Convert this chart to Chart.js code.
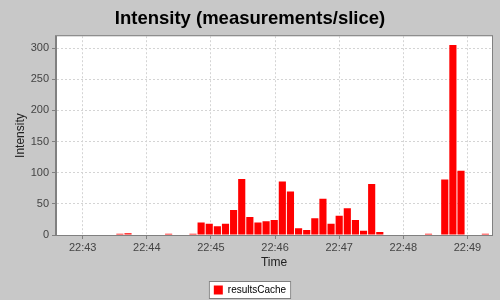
<!DOCTYPE html>
<html>
<head>
<meta charset="utf-8">
<script src="https://cdn.jsdelivr.net/npm/chart.js@4.4.0/dist/chart.umd.min.js"></script>
<style>
  html, body { margin: 0; padding: 0; background: #c8c8c8; }
  #wrap { width: 500px; height: 300px; }
</style>
</head>
<body>
<div id="wrap"><canvas id="intensityChart" width="500" height="300"></canvas></div>
<script>
// time slices (start of first slice, slice length in seconds)
const firstSlice = "22:43:31";
const sliceSeconds = 7.6;
// measurements per slice
const counts = [2, 3, 0, 0, 0, 0, 2, 0, 0, 2,
  20, 18, 14, 18, 40, 90, 29, 20, 22, 24,
  86, 70, 11, 8, 27, 58, 18, 31, 43, 24,
  7, 82, 5, 0, 0, 0, 0, 0, 2, 0,
  89, 305, 103, 0, 0, 2];
const yTicks = [0, 50, 100, 150, 200, 250, 300];
const timeTicks = ["22:43", "22:44", "22:45", "22:46", "22:47", "22:48", "22:49"];
const axisStart = "22:42:35";
const axisEnd = "22:49:23";

function toMinutes(s) {
  const p = s.split(":").map(Number);
  return p[0] * 60 + p[1] + (p[2] || 0) / 60;
}

const start = toMinutes(firstSlice);
const points = counts.map((c, i) => ({ x: start + (i + 0.5) * sliceSeconds / 60, y: c }));

// gray page, white plot area, boxed legend, plot outline
const plotFrame = {
  id: "plotFrame",
  beforeDraw(chart) {
    const c = chart.ctx;
    const a = chart.chartArea;
    c.save();
    c.fillStyle = "#c8c8c8";
    c.fillRect(0, 0, chart.width, chart.height);
    c.fillStyle = "#ffffff";
    c.fillRect(a.left, a.top, a.right - a.left, a.bottom - a.top);
    const hb = chart.legend.legendHitBoxes[0];
    if (hb) {
      c.fillStyle = "#ffffff";
      c.fillRect(hb.left - 5, hb.top - 4, hb.width + 10, hb.height + 8);
      c.strokeStyle = "#808080";
      c.lineWidth = 1;
      c.strokeRect(hb.left - 4.5, hb.top - 3.5, hb.width + 9, hb.height + 7);
    }
    c.restore();
  },
  afterDraw(chart) {
    const c = chart.ctx;
    const a = chart.chartArea;
    c.save();
    c.strokeStyle = "#808080";
    c.lineWidth = 1;
    c.strokeRect(a.left - 0.5, a.top - 0.5, a.right - a.left + 1, a.bottom - a.top + 1);
    c.restore();
  }
};

const ctx = document.getElementById("intensityChart").getContext("2d");

const intensityChart = new Chart(ctx, {
  type: "bar",
  data: {
    datasets: [
      {
        label: "resultsCache",
        data: points,
        backgroundColor: "#ff0000",
        borderWidth: 0,
        barPercentage: 0.88,
        categoryPercentage: 1.0,
      },
    ],
  },
  options: {
    responsive: false,
    maintainAspectRatio: false,
    animation: false,
    layout: { padding: { left: 8, right: 8, top: 0, bottom: -5 } },
    plugins: {
      title: {
        display: true,
        text: "Intensity (measurements/slice)",
        color: "#000",
        font: { family: "Liberation Sans", size: 18.5, weight: "bold" },
        padding: { top: 8, bottom: 6 },
      },
      legend: {
        position: "bottom",
        labels: {
          color: "#000",
          font: { family: "Liberation Sans", size: 10 },
          boxWidth: 9,
          boxHeight: 9,
          padding: 6,
        },
      },
      tooltip: { enabled: false },
    },
    scales: {
      x: {
        type: "linear",
        offset: false,
        bounds: "data",
        min: toMinutes(axisStart),
        max: toMinutes(axisEnd),
        afterFit(scale) { scale.height = 44; },
        afterBuildTicks(scale) { scale.ticks = timeTicks.map(t => ({ value: toMinutes(t) })); },
        ticks: {
          color: "#444",
          padding: 2,
          includeBounds: false,
          font: { family: "Liberation Sans", size: 11 },
          maxRotation: 0,
          callback(v) {
            const h = Math.floor(v / 60);
            const m = Math.round(v - h * 60);
            return h + ":" + String(m).padStart(2, "0");
          },
        },
        grid: { color: "#d4d4d4", tickColor: "#808080", tickLength: 4, offset: false },
        border: { color: "#808080", dash: [2, 2] },
        title: { display: true, text: "Time", color: "#222", font: { family: "Liberation Sans", size: 12 }, padding: { top: 0, bottom: 9 } },
      },
      y: {
        min: 0,
        max: 319,
        afterFit(scale) { scale.width = 48; },
        afterBuildTicks(scale) { scale.ticks = yTicks.map(v => ({ value: v })); },
        ticks: { color: "#444", padding: 3, font: { family: "Liberation Sans", size: 11 } },
        grid: { color: "#d4d4d4", tickColor: "#808080", tickLength: 4 },
        border: { color: "#808080", dash: [2, 2] },
        title: { display: true, text: "Intensity", color: "#222", font: { family: "Liberation Sans", size: 12 }, padding: { top: 5, bottom: 0 } },
      },
    },
  },
  plugins: [plotFrame],
});
</script>
</body>
</html>
